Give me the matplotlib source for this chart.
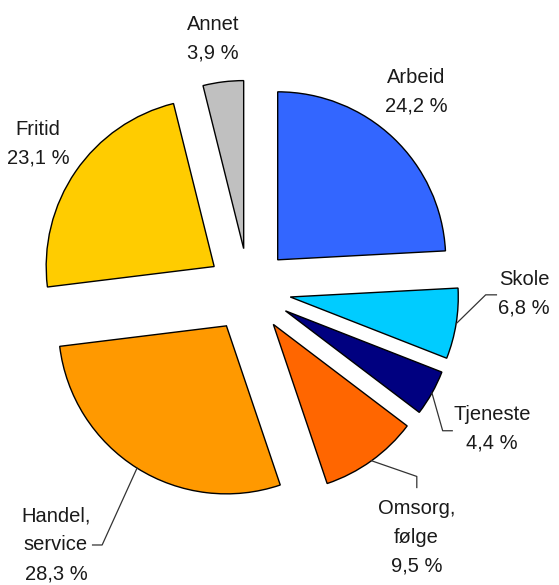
import matplotlib.pyplot as plt
import numpy as np

labels = ['Arbeid', 'Skole', 'Tjeneste', 'Omsorg,\nfølge', 'Handel,\nservice', 'Fritid', 'Annet']
shares = [24.2, 6.8, 4.4, 9.5, 28.3, 23.1, 3.9]
colors = ['#3366FF', '#00CCFF', '#000080', '#FF6600', '#FF9900', '#FFCC00', '#C0C0C0']

# label centres (data units, radius = 1) and leader line elbows
label_pos = [(0.995, 1.181), (1.638, -0.022), (1.448, -0.826), (0.998, -1.471),
             (-1.148, -1.516), (-1.255, 0.871), (-0.213, 1.499)]
leaders = {
    1: [(1.410, -0.027), (1.474, -0.027)],
    2: [(1.154, -0.836), (1.211, -0.836)],
    3: [(1.0, -1.108), (1.0, -1.174)],
    4: [(-0.873, -1.516), (-0.930, -1.516)],
}
explode = 0.25

plt.rcParams['font.family'] = ['Liberation Sans', 'DejaVu Sans']

fig = plt.figure(figsize=(5.59, 5.85), dpi=100)
ax = fig.add_axes([0, 0, 1, 1])

wedges, _ = ax.pie(shares, colors=colors, startangle=90, counterclock=False,
                   explode=[explode] * len(shares),
                   wedgeprops=dict(edgecolor='black', linewidth=1.0))

for i, w in enumerate(wedges):
    x, y = label_pos[i]
    txt = labels[i] + '\n' + f'{shares[i]:.1f} %'.replace('.', ',')
    ax.text(x, y, txt, ha='center', va='center', fontsize=14.5,
            color='#1a1a1a', linespacing=1.65)
    if i in leaders:
        mid = np.deg2rad((w.theta1 + w.theta2) / 2)
        r = 1 + explode
        pts = [(r * np.cos(mid), r * np.sin(mid))] + leaders[i]
        xs, ys = zip(*pts)
        ax.plot(xs, ys, color='#333333', lw=0.9)

ax.set_aspect('auto')
ax.set_xlim(-248.8 / 168, (559 - 248.8) / 168)
ax.set_ylim(-294.7 / 168, 290.3 / 168)
ax.axis('off')

fig.savefig('out.png', dpi=100)
